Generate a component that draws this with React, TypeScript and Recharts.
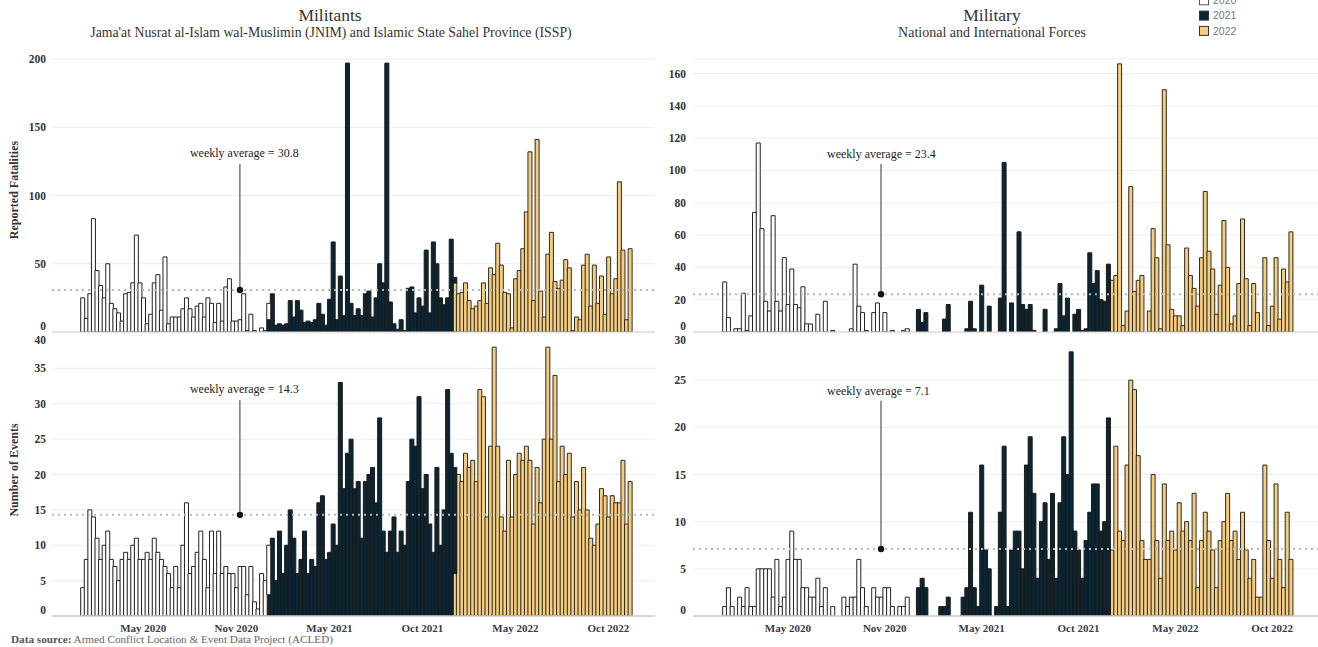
import React from 'react';
import { BarChart, Bar, XAxis, YAxis, CartesianGrid, ReferenceLine, ReferenceDot } from 'recharts';

const SERIF = '"Liberation Serif", "DejaVu Serif", serif';
const SANS = '"Liberation Sans", Arial, sans-serif';

const COLOR_2020 = '#ffffff';
const COLOR_2021 = '#0b2533';
const COLOR_2022 = '#f4cd80';

const WEEK_COUNT = 154;
const FIRST_WEEK_2021 = 52;
const FIRST_WEEK_2022 = 104;

const xTickWeeks = [17, 43, 69, 95, 121, 147];
const xTickLabels = ['May 2020', 'Nov 2020', 'May 2021', 'Oct 2021', 'May 2022', 'Oct 2022'];

const legendYears = ['2020', '2021', '2022'];
const legendColors = [COLOR_2020, COLOR_2021, COLOR_2022];

// Militants – reported fatalities per week
const militantFatalities2020 = [
  25, 10, 28, 83, 45, 34, 25, 50, 21, 17,
  14, 8, 28, 29, 36, 71, 36, 25, 6, 13,
  36, 42, 16, 55, 6, 11, 11, 11, 17, 25,
  17, 11, 19, 21, 11, 25, 21, 7, 21, 8,
  33, 39, 8, 8, 9, 28, 1, 13, 1, 0,
  3, 1, 12,
];
const militantFatalities2021 = [
  9, 28, 5, 6, 5, 6, 23, 11, 23, 16,
  7, 8, 7, 9, 21, 13, 5, 24, 66, 9,
  41, 12, 197, 21, 12, 17, 12, 28, 30, 11,
  25, 50, 36, 197, 22, 6, 2, 9, 1, 32,
  33, 14, 25, 19, 60, 14, 66, 50, 25, 20,
  25, 68, 4,
];
const militantFatalities2022 = [
  36, 28, 29, 36, 23, 17, 19, 23, 36, 21,
  47, 42, 65, 49, 29, 28, 3, 39, 45, 61,
  88, 132, 23, 141, 30, 11, 57, 73, 37, 32,
  38, 53, 47, 1, 11, 9, 49, 57, 19, 49,
  21, 41, 13, 55, 28, 39, 110, 60, 9, 61,
];

// Militants – number of events per week
const militantEvents2020 = [
  4, 8, 15, 14, 11, 8, 10, 12, 8, 7,
  5, 8, 9, 8, 10, 11, 8, 8, 9, 8,
  11, 9, 8, 7, 6, 4, 7, 4, 10, 16,
  6, 7, 9, 12, 8, 4, 12, 6, 12, 6,
  7, 6, 6, 4, 7, 7, 3, 7, 2, 1,
  6, 5, 7,
];
const militantEvents2021 = [
  3, 11, 5, 12, 6, 10, 15, 11, 6, 8,
  12, 6, 8, 7, 16, 17, 8, 9, 13, 10,
  33, 18, 23, 25, 18, 19, 11, 19, 20, 21,
  16, 28, 12, 9, 12, 14, 9, 12, 10, 19,
  25, 24, 31, 18, 20, 13, 9, 21, 10, 15,
  32, 23, 15,
];
const militantEvents2022 = [
  6, 20, 19, 23, 21, 22, 19, 32, 31, 14,
  24, 38, 24, 14, 12, 22, 14, 20, 23, 22,
  24, 22, 13, 21, 16, 25, 38, 25, 34, 19,
  24, 20, 23, 14, 19, 15, 21, 15, 11, 10,
  13, 18, 17, 14, 17, 16, 16, 22, 13, 19,
];

// Military – reported fatalities per week
const militaryFatalities2020 = [
  31, 9, 0, 2, 2, 24, 1, 10, 74, 117,
  64, 19, 13, 72, 19, 13, 46, 17, 39, 17,
  15, 28, 5, 5, 0, 11, 0, 19, 0, 1,
  0, 0, 0, 0, 2, 42, 16, 12, 1, 0,
  12, 18, 0, 12, 0, 1, 0, 0, 1, 2,
  0, 0, 0,
];
const militaryFatalities2021 = [
  14, 6, 12, 0, 0, 0, 0, 8, 17, 0,
  0, 0, 0, 2, 19, 2, 0, 29, 0, 16,
  0, 0, 21, 105, 0, 18, 0, 62, 17, 14,
  17, 1, 0, 0, 14, 0, 0, 2, 30, 10,
  21, 0, 11, 14, 1, 2, 49, 30, 38, 20,
  19, 42, 0,
];
const militaryFatalities2022 = [
  32, 35, 166, 4, 13, 90, 25, 32, 35, 0,
  13, 64, 46, 2, 150, 54, 14, 10, 10, 4,
  52, 35, 27, 16, 46, 87, 50, 39, 11, 29,
  69, 40, 5, 10, 30, 70, 33, 4, 30, 12,
  0, 46, 4, 16, 46, 8, 39, 31, 62, 0,
];

// Military – number of events per week
const militaryEvents2020 = [
  1, 3, 1, 0, 2, 1, 3, 1, 1, 5,
  5, 5, 5, 2, 6, 1, 2, 6, 9, 6,
  6, 3, 3, 2, 2, 4, 1, 3, 0, 1,
  0, 0, 2, 1, 2, 2, 6, 3, 1, 0,
  3, 2, 2, 3, 3, 1, 0, 1, 1, 2,
  0, 0, 0,
];
const militaryEvents2021 = [
  3, 4, 3, 0, 0, 0, 1, 1, 2, 0,
  0, 0, 2, 3, 11, 3, 1, 16, 7, 5,
  0, 1, 11, 18, 1, 7, 9, 9, 5, 16,
  19, 13, 4, 10, 12, 6, 13, 4, 12, 19,
  15, 28, 9, 7, 4, 8, 11, 14, 14, 9,
  10, 21, 0,
];
const militaryEvents2022 = [
  7, 18, 9, 8, 16, 25, 24, 17, 8, 6,
  6, 15, 8, 4, 14, 8, 9, 7, 12, 9,
  10, 8, 13, 3, 8, 11, 9, 7, 3, 8,
  10, 13, 8, 9, 6, 11, 7, 4, 6, 2,
  2, 16, 8, 4, 14, 6, 3, 11, 6, 0,
];

const weeklyAverages = { militantFatalities: 30.8, militantEvents: 14.3, militaryFatalities: 23.4, militaryEvents: 7.1 };

function pick(arr: number[], idx: number) {
  return idx >= 0 && idx < arr.length ? arr[idx] : 0;
}

function buildRows(a20: number[], a21: number[], a22: number[]) {
  const rows: any[] = [];
  for (let week = 0; week < WEEK_COUNT; week++) {
    rows.push({
      week,
      y2020: pick(a20, week),
      y2021: pick(a21, week - FIRST_WEEK_2021),
      y2022: pick(a22, week - FIRST_WEEK_2022),
    });
  }
  return rows;
}

const makeYTick = (xRight: number, topValue: number, topShift: number) => (props: any) => {
  const v = props.payload.value;
  const shift = v === 0 ? -6 : v === topValue ? topShift : 0;
  return (
    <text x={xRight} y={props.y + shift} dy="0.35em" textAnchor="end" fontFamily={SERIF} fontWeight={700} fontSize={11.5} fill="#333">
      {v}
    </text>
  );
};

const xTick = (props: any) => {
  const idx = xTickWeeks.indexOf(props.payload.value);
  return (
    <text x={props.x} y={props.y} dy="0.71em" textAnchor="middle" fontFamily={SERIF} fontWeight={700} fontSize={11} fill="#3a3a48">
      {idx >= 0 ? xTickLabels[idx] : ''}
    </text>
  );
};

const makeAnnotation = (lineTop: number, textY: number, textDx: number, label: string) => (p: any) => (
  <g>
    <line x1={p.cx} y1={lineTop} x2={p.cx} y2={p.cy} stroke="#333" strokeWidth={1} />
    <circle cx={p.cx} cy={p.cy} r={3.2} fill="#111" />
    <text x={p.cx + textDx} y={textY} fontFamily={SERIF} fontSize={12} fill="#222">
      {label}
    </text>
  </g>
);

type PanelProps = {
  rows: any[];
  left: number;
  top: number;
  width: number;
  height: number;
  margin: { top: number; right: number; bottom: number; left: number };
  yAxisWidth: number;
  yMax: number;
  yTicks: number[];
  tickRight: number;
  topShift: number;
  avg: number;
  annotWeek: number;
  annotLineTop: number;
  annotTextY: number;
  annotTextDx: number;
  padding: { left: number; right: number };
  showX: boolean;
};

function Panel(p: PanelProps) {
  return (
    <div style={{ position: 'absolute', left: p.left, top: p.top, width: p.width, height: p.height }}>
      <BarChart width={p.width} height={p.height} data={p.rows} margin={p.margin} barCategoryGap={0} barGap={0}>
        <CartesianGrid vertical={false} stroke="#ededed" />
        <XAxis
          dataKey="week"
          type="category"
          hide={!p.showX}
          ticks={xTickWeeks}
          interval={0}
          padding={p.padding}
          axisLine={{ stroke: '#cccccc' }}
          tickLine={false}
          height={20}
          tick={xTick}
        />
        <YAxis
          type="number"
          domain={[0, p.yMax]}
          ticks={p.yTicks}
          interval={0}
          width={p.yAxisWidth}
          axisLine={false}
          tickLine={false}
          allowDataOverflow
          tick={makeYTick(p.tickRight, p.yTicks[p.yTicks.length - 1], p.topShift)}
        />
        <Bar dataKey="y2022" stackId="s" fill={COLOR_2022} stroke="#2e2a22" strokeWidth={1} isAnimationActive={false} />
        <Bar dataKey="y2021" stackId="s" fill={COLOR_2021} stroke="#1a1a1a" strokeWidth={1} isAnimationActive={false} />
        <Bar dataKey="y2020" stackId="s" fill={COLOR_2020} stroke="#222" strokeWidth={1} isAnimationActive={false} />
        <ReferenceLine y={0} stroke="#cccccc" />
        <ReferenceLine y={p.avg} stroke="#b8b8b8" strokeWidth={2} strokeDasharray="2 4" />
        <ReferenceDot
          x={p.annotWeek}
          y={p.avg}
          r={3}
          shape={makeAnnotation(p.annotLineTop, p.annotTextY, p.annotTextDx, `weekly average = ${p.avg}`)}
        />
      </BarChart>
    </div>
  );
}

export default function App() {
  const ltRows = buildRows(militantFatalities2020, militantFatalities2021, militantFatalities2022);
  const lbRows = buildRows(militantEvents2020, militantEvents2021, militantEvents2022);
  const rtRows = buildRows(militaryFatalities2020, militaryFatalities2021, militaryFatalities2022);
  const rbRows = buildRows(militaryEvents2020, militaryEvents2021, militaryEvents2022);

  const leftPad = { left: 28.7, right: 23.3 };
  const rightPad = { left: 29.7, right: 21.6 };

  return (
    <div style={{ position: 'absolute', left: 0, top: 0, width: 1318, height: 647, background: '#fff', overflow: 'hidden' }}>
      <Panel
        rows={ltRows}
        left={0}
        top={0}
        width={660}
        height={334}
        margin={{ top: 59, right: 5, bottom: 2, left: 0 }}
        yAxisWidth={52}
        yMax={200}
        yTicks={[0, 50, 100, 150, 200]}
        tickRight={46}
        topShift={0}
        avg={weeklyAverages.militantFatalities}
        annotWeek={44}
        annotLineTop={164}
        annotTextY={157}
        annotTextDx={-50}
        padding={leftPad}
        showX={false}
      />
      <Panel
        rows={lbRows}
        left={0}
        top={320}
        width={660}
        height={327}
        margin={{ top: 13, right: 5, bottom: 11, left: 0 }}
        yAxisWidth={52}
        yMax={40}
        yTicks={[0, 5, 10, 15, 20, 25, 30, 35, 40]}
        tickRight={46}
        topShift={7}
        avg={weeklyAverages.militantEvents}
        annotWeek={44}
        annotLineTop={80}
        annotTextY={72.5}
        annotTextDx={-50}
        padding={leftPad}
        showX={true}
      />
      <Panel
        rows={rtRows}
        left={660}
        top={0}
        width={658}
        height={334}
        margin={{ top: 59, right: 0, bottom: 2, left: 0 }}
        yAxisWidth={33}
        yMax={169}
        yTicks={[0, 20, 40, 60, 80, 100, 120, 140, 160]}
        tickRight={26}
        topShift={0}
        avg={weeklyAverages.militaryFatalities}
        annotWeek={42}
        annotLineTop={164}
        annotTextY={157.5}
        annotTextDx={-54}
        padding={rightPad}
        showX={false}
      />
      <Panel
        rows={rbRows}
        left={660}
        top={320}
        width={658}
        height={327}
        margin={{ top: 13, right: 0, bottom: 11, left: 0 }}
        yAxisWidth={33}
        yMax={30}
        yTicks={[0, 5, 10, 15, 20, 25, 30]}
        tickRight={26}
        topShift={7}
        avg={weeklyAverages.militaryEvents}
        annotWeek={42}
        annotLineTop={80.7}
        annotTextY={75}
        annotTextDx={-54}
        padding={rightPad}
        showX={true}
      />
      <svg width={1318} height={647} style={{ position: 'absolute', left: 0, top: 0, pointerEvents: 'none' }}>
        <text x={330} y={21} textAnchor="middle" fontFamily={SERIF} fontSize={17.5} fill="#333">Militants</text>
        <text x={331} y={37} textAnchor="middle" fontFamily={SERIF} fontSize={13.8} fill="#333">
          Jama'at Nusrat al-Islam wal-Muslimin (JNIM) and Islamic State Sahel Province (ISSP)
        </text>
        <text x={992} y={21} textAnchor="middle" fontFamily={SERIF} fontSize={17.5} fill="#333">Military</text>
        <text x={992} y={37} textAnchor="middle" fontFamily={SERIF} fontSize={14} fill="#333">National and International Forces</text>

        <text transform="translate(18,190) rotate(-90)" textAnchor="middle" fontFamily={SERIF} fontWeight={700} fontSize={12} fill="#333">
          Reported Fatalities
        </text>
        <text transform="translate(18,470) rotate(-90)" textAnchor="middle" fontFamily={SERIF} fontWeight={700} fontSize={12} fill="#333">
          Number of Events
        </text>

        <text x={11} y={643} fontFamily={SERIF} fontSize={11.2}>
          <tspan fontWeight={700} fill="#555">Data source:</tspan>
          <tspan fill="#666"> Armed Conflict Location &amp; Event Data Project (ACLED)</tspan>
        </text>

        {legendYears.map((yr, i) => {
          const cy = 0.3 + i * 15.3;
          return (
            <g key={yr}>
              <rect x={1199.5} y={cy - 4.5} width={9} height={9} fill={legendColors[i]} stroke={i === 0 ? '#555' : '#333'} strokeWidth={1} />
              <text x={1213} y={cy + 3.7} fontFamily={SANS} fontSize={10.5} fill="#777">{yr}</text>
            </g>
          );
        })}
      </svg>
    </div>
  );
}
